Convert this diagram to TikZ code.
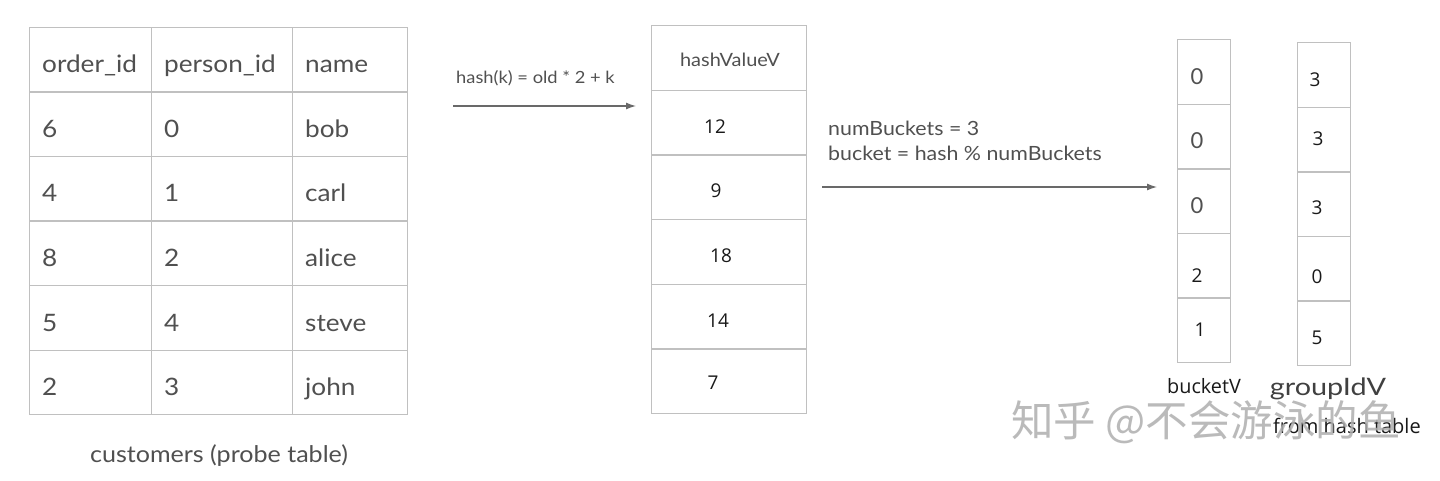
\documentclass[tikz,border=0pt]{standalone}
\usepackage{fontspec}
\setmainfont{Lato}
\newfontfamily\widefont[FakeStretch=1.09]{Lato}
\newfontfamily\widerfont[FakeStretch=1.2]{Lato}
\newfontfamily\numfont{Open Sans}
\newfontfamily\cjkfont{Noto Sans CJK SC}
\usetikzlibrary{arrows.meta,calc}
\definecolor{linegray}{RGB}{192,192,192}
\definecolor{txtgray}{RGB}{80,80,80}
\definecolor{arrowgray}{RGB}{105,105,105}
\definecolor{wmgray}{RGB}{175,175,175}
\tikzset{
  cell/.style={draw=linegray, line width=1.4pt, rectangle, inner sep=0pt, anchor=north west},
  tbltext/.style={text=txtgray, font=\widefont\fontsize{24}{28}\selectfont, inner sep=0pt, anchor=base west},
  hdrtext/.style={text=txtgray, font=\widefont\fontsize{18.3}{22}\selectfont, inner sep=0pt},
  numtext/.style={text=black!90, font=\numfont\fontsize{19}{22}\selectfont, inner sep=0pt},
  bucket0/.style={text=txtgray, font=\fontsize{22}{26}\selectfont, inner sep=0pt},
  arrowlbl/.style={text=txtgray, inner sep=0pt, anchor=base west},
  flow/.style={draw=arrowgray, line width=1.3pt, -{Latex[length=10pt,width=7pt]}},
}
\begin{document}
\begin{tikzpicture}[x=1pt,y=-1pt]
\useasboundingbox (0,0) rectangle (1440,481);
\fill[white] (0,0) rectangle (1440,481);

% ---------- customers table ----------
\foreach \r/\y in {0/27,1/91.5,2/156,3/220.5,4/285,5/349.5}{
  \node[cell, minimum width=122pt, minimum height=64.5pt] (t-\r-1) at (29,\y) {};
  \node[cell, minimum width=141pt, minimum height=64.5pt] (t-\r-2) at (151,\y) {};
  \node[cell, minimum width=115pt, minimum height=64.5pt] (t-\r-3) at (292,\y) {};
}
\foreach \r/\a/\b/\c in {0/order\_id/person\_id/name,1/6/0/bob,2/4/1/carl,3/8/2/alice,4/5/4/steve,5/2/3/john}{
  \node[tbltext] (tx-\r-1) at ($(t-\r-1.north west)+(13,46)$) {\a};
  \node[tbltext] (tx-\r-2) at ($(t-\r-2.north west)+(13,46)$) {\b};
  \node[tbltext] (tx-\r-3) at ($(t-\r-3.north west)+(13,46)$) {\c};
}
\node[text=txtgray, font=\widefont\fontsize{23}{27}\selectfont, inner sep=0pt, anchor=base] (cap) at (219,462) {customers (probe table)};

% ---------- arrow 1 ----------
\coordinate (a1s) at (453,106);
\coordinate (a1e) at (636,106);
\draw[flow] (a1s) -- (a1e);
\node[arrowlbl, font=\widefont\fontsize{16.8}{20}\selectfont] (l1) at (456,84) {hash(k) = old * 2 + k};

% ---------- hashValueV column ----------
\foreach \r/\y in {0/25,1/89.67,2/154.33,3/219,4/283.67,5/348.33}{
  \node[cell, minimum width=155pt, minimum height=64.67pt] (h-\r) at (651,\y) {};
}
\node[hdrtext, anchor=base] (hv) at (730,67) {hashValueV};
\node[numtext] (hn1) at (715,127) {12};
\node[numtext] (hn2) at (716,191) {9};
\node[numtext] (hn3) at (721,256) {18};
\node[numtext] (hn4) at (718,321) {14};
\node[numtext] (hn5) at (713,383) {7};

% ---------- arrow 2 ----------
\coordinate (a2s) at (822,187);
\coordinate (a2e) at (1157,187);
\draw[flow] (a2s) -- (a2e);
\node[arrowlbl, font=\widefont\fontsize{19.6}{23}\selectfont] (l2a) at (828,136) {numBuckets = 3};
\node[arrowlbl, font=\widefont\fontsize{19.6}{23}\selectfont] (l2b) at (828,161) {bucket = hash \% numBuckets};

% ---------- bucketV column ----------
\foreach \r/\y in {0/39,1/103.6,2/168.2,3/232.8,4/297.4}{
  \node[cell, minimum width=53pt, minimum height=64.6pt] (b-\r) at (1177,\y) {};
}
\node[bucket0] (bn1) at (1197,77) {0};
\node[bucket0] (bn2) at (1197,141) {0};
\node[bucket0] (bn3) at (1197,206) {0};
\node[numtext] (bn4) at (1197,276) {2};
\node[numtext] (bn5) at (1200,330) {1};
\node[numtext, font=\numfont\fontsize{19.8}{23}\selectfont, anchor=base] (bl) at (1204,393) {bucketV};

% ---------- groupIdV column ----------
\foreach \r/\y in {0/42,1/106.6,2/171.2,3/235.8,4/300.4}{
  \node[cell, minimum width=53pt, minimum height=64.6pt] (g-\r) at (1297,\y) {};
}
\node[numtext] (gn1) at (1315,80) {3};
\node[numtext] (gn2) at (1318,139) {3};
\node[numtext] (gn3) at (1317,208) {3};
\node[numtext] (gn4) at (1317,277) {0};
\node[numtext] (gn5) at (1317,338) {5};
\node[text=txtgray!80!black, font=\widerfont\fontsize{24}{28}\selectfont, inner sep=0pt, anchor=base] (gl) at (1328,395) {groupIdV};
\node[numtext, font=\numfont\fontsize{20}{23}\selectfont, anchor=base west] (gf) at (1273,433) {from hash table};

% ---------- watermark ----------
\node[text=wmgray, opacity=0.85, font=\cjkfont\fontsize{42.5}{46}\selectfont, inner sep=0pt, anchor=west] (wm) at (1011,422) {知乎 @不会游泳的鱼};
\end{tikzpicture}
\end{document}
